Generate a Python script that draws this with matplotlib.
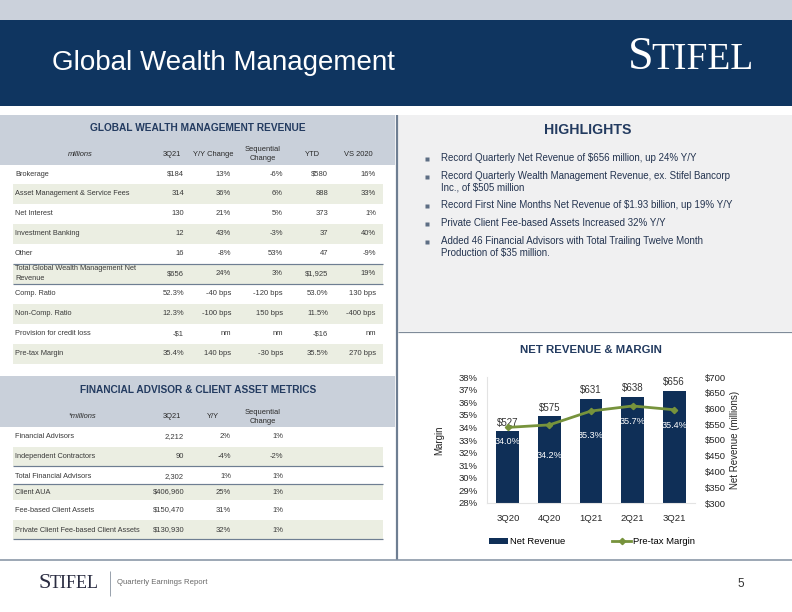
import matplotlib
matplotlib.use("Agg")
import matplotlib.pyplot as plt
from matplotlib.patches import Rectangle
from matplotlib import font_manager
from matplotlib.ticker import FixedLocator, FuncFormatter

# ------------------------------------------------------------------ data
categories = ["3Q20", "4Q20", "1Q21", "2Q21", "3Q21"]
net_revenue = [527, 575, 631, 638, 656]          # $ millions (right axis)
pretax_margin = [34.0, 34.2, 35.3, 35.7, 35.4]   # % (left axis)
margin_ticks = [28, 29, 30, 31, 32, 33, 34, 35, 36, 37, 38]
revenue_ticks = [300, 350, 400, 450, 500, 550, 600, 650, 700]

rev_header = ["millions", "3Q21", "Y/Y Change", "Sequential\nChange", "YTD", "VS 2020"]
rev_rows = ["Brokerage", "Asset Management & Service Fees", "Net Interest",
            "Investment Banking", "Other",
            "Total Global Wealth Management Net\nRevenue",
            "Comp. Ratio", "Non-Comp. Ratio", "Provision for credit loss",
            "Pre-tax Margin"]
rev_3q21 = ["$184", "314", "130", "12", "16", "$656", "52.3%", "12.3%", "-$1", "35.4%"]
rev_yy = ["13%", "36%", "21%", "43%", "-8%", "24%", "-40 bps", "-100 bps", "nm", "140 bps"]
rev_seq = ["-6%", "6%", "5%", "-3%", "53%", "3%", "-120 bps", "150 bps", "nm", "-30 bps"]
rev_ytd = ["$580", "888", "373", "37", "47", "$1,925", "53.0%", "11.5%", "-$16", "35.5%"]
rev_vs = ["16%", "33%", "1%", "40%", "-9%", "19%", "130 bps", "-400 bps", "nm", "270 bps"]

fa_header = ["*millions", "3Q21", "Y/Y", "Sequential\nChange"]
fa_rows = ["Financial Advisors", "Independent Contractors", "Total Financial Advisors",
           "Client AUA", "Fee-based Client Assets",
           "Private Client Fee-based Client Assets"]
fa_3q21 = ["2,212", "90", "2,302", "$406,960", "$150,470", "$130,930"]
fa_yy = ["2%", "-4%", "1%", "25%", "31%", "32%"]
fa_seq = ["1%", "-2%", "1%", "1%", "1%", "1%"]

highlights = [
    ["Record Quarterly Net Revenue of $656 million, up 24% Y/Y"],
    ["Record Quarterly Wealth Management Revenue, ex. Stifel Bancorp",
     "Inc., of $505 million"],
    ["Record First Nine Months Net Revenue of $1.93 billion, up 19% Y/Y"],
    ["Private Client Fee-based Assets Increased 32% Y/Y"],
    ["Added 46 Financial Advisors with Total Trailing Twelve Month",
     "Production of $35 million."],
]

# ------------------------------------------------------------------ style
NAVY = "#0f3560"
HEAD_NAVY = "#233b60"
BAR = "#0f2f57"
GREEN = "#77933c"
BAND = "#c9d0da"
STRIPE = "#ebeee2"
RULE = "#6e7e92"
TXT = "#3a3a3a"

SANS = "Liberation Sans"
SERIF = "Liberation Serif"
_names = {f.name for f in font_manager.fontManager.ttflist}
NARROW = "Liberation Sans Narrow" if "Liberation Sans Narrow" in _names else SANS
NARROW_SIZE = 8.6 if NARROW != SANS else 7.3

W, H = 792, 612
fig = plt.figure(figsize=(W / 100, H / 100), dpi=100)
fig.patch.set_facecolor("white")

bg = fig.add_axes([0, 0, 1, 1])
bg.set_xlim(0, W)
bg.set_ylim(H, 0)
bg.axis("off")
bg.set_zorder(-1)


def rect(x0, y0, x1, y1, color):
    bg.add_patch(Rectangle((x0, y0), x1 - x0, y1 - y0, facecolor=color,
                           edgecolor="none", lw=0))


def line(x0, y0, x1, y1, color, px):
    bg.plot([x0, x1], [y0, y1], color=color, lw=px * 0.72, solid_capstyle="butt")


def txt(x, y, s, size=5.3, ha="left", va="center", color=TXT, **kw):
    kw.setdefault("family", SANS)
    bg.text(x, y, s, fontsize=size, ha=ha, va=va, color=color, **kw)


# ---- slide header
rect(0, 0, W, 20, "#cbd1db")
rect(0, 20, W, 106, NAVY)
txt(52, 63, "Global Wealth Management", size=20, color="white")
txt(628, 58, "S", size=33, color="white", family=SERIF)
txt(651, 60, "TIFEL", size=27, color="white", family=SERIF)

# ---- panels
rect(398, 115, W, 331, "#f0f0f1")
line(398, 332, W, 332, "#7f8b99", 1.2)
line(396.5, 115, 396.5, 560, RULE, 2.2)
line(0, 560, W, 560, "#8794a5", 1.6)

# ---- table 1
rect(0, 115, 395, 165, BAND)
txt(198, 128, "GLOBAL WEALTH MANAGEMENT REVENUE", size=NARROW_SIZE, ha="center",
    color=HEAD_NAVY, family=NARROW, weight="bold")
hdr_x = [80, 172, 213, 263, 312, 358]
for i, (x, s) in enumerate(zip(hdr_x, rev_header)):
    txt(x, 154, s, size=5.4, ha="center", color="#2a2a2a",
        style="italic" if i == 0 else "normal", linespacing=1.55)

row_y1 = [174 + 19.95 * i for i in range(len(rev_rows))]
for i, y in enumerate(row_y1):
    if i % 2 == 1:
        rect(13, y - 10, 383, y + 10, STRIPE)
tot = rev_rows.index("Total Global Wealth Management Net\nRevenue")
line(13, row_y1[tot] - 10, 383, row_y1[tot] - 10, RULE, 1.2)
line(13, row_y1[tot] + 10, 383, row_y1[tot] + 10, RULE, 1.2)

val_x1 = [184, 231, 283, 328, 376]
cols1 = [rev_3q21, rev_yy, rev_seq, rev_ytd, rev_vs]
for i, y in enumerate(row_y1):
    txt(15, y, rev_rows[i], linespacing=1.5)
    for x, col in zip(val_x1, cols1):
        txt(x, y, col[i], ha="right", size=5.5)

# ---- table 2
rect(0, 376, 395, 427, BAND)
txt(198, 390, "FINANCIAL ADVISOR & CLIENT ASSET METRICS", size=NARROW_SIZE, ha="center",
    color=HEAD_NAVY, family=NARROW, weight="bold")
hdr2_x = [82, 172, 213, 263]
for x, s in zip(hdr2_x, fa_header):
    txt(x, 417, s, size=5.4, ha="center", color="#2a2a2a",
        style="italic" if s.startswith("*") else "normal", linespacing=1.55)

fa_row_y = [437, 457, 477, 492, 510, 530]
fa_stripes = [(447, 466), (485, 500), (520, 539)]
for y0, y1 in fa_stripes:
    rect(13, y0, 383, y1, STRIPE)
line(13, 466, 383, 466, RULE, 1.2)
line(13, 484, 383, 484, RULE, 1.2)
line(13, 539, 383, 539, RULE, 1.2)

val_x2 = [184, 231, 283]
cols2 = [fa_3q21, fa_yy, fa_seq]
for i, y in enumerate(fa_row_y):
    txt(15, y, fa_rows[i])
    for x, col in zip(val_x2, cols2):
        txt(x, y, col[i], ha="right", size=5.5)

# ---- highlights
txt(588, 130, "HIGHLIGHTS", size=10.2, ha="center", color=HEAD_NAVY, weight="bold")
y = 158.0
for item in highlights:
    bg.plot([427], [y + 0.5], marker="s", ms=2.2, color="#5d6e84", mec="none")
    for j, ln in enumerate(item):
        txt(441, y + j * 11.3, ln, size=7.0, color="#243450")
    y += 18 + (len(item) - 1) * 11.3

# ---- chart title
txt(591, 350, "NET REVENUE & MARGIN", size=8.2, ha="center", color=HEAD_NAVY,
    weight="bold")

# ---- footer
txt(38, 583, "S", size=16, color="#2b2d42", family=SERIF)
txt(50, 584, "TIFEL", size=13, color="#2b2d42", family=SERIF)
line(110, 571, 110, 596, "#9aa3ae", 1)
txt(117, 583, "Quarterly Earnings Report", size=5.6, color="#6a6a6a")
txt(741, 584, "5", size=8.5, ha="center", color="#333333")

# ------------------------------------------------------------------ chart
ax = fig.add_axes([487 / W, (H - 503) / H, (695 - 487) / W, 126 / H])
ax2 = ax.twinx()
ax.set_zorder(3)
ax2.set_zorder(2)
ax.patch.set_visible(False)

x = list(range(len(categories)))
bars = ax2.bar(x, net_revenue, width=0.55, color=BAR, zorder=2, label="Net Revenue")
ln, = ax.plot(x, pretax_margin, color=GREEN, lw=2.0, marker="D", ms=3.2,
              label="Pre-tax Margin")

ax.set_xlim(-0.5, len(categories) - 0.5)
ax.set_ylim(margin_ticks[0], margin_ticks[-1])
ax2.set_ylim(revenue_ticks[0], revenue_ticks[-1])
ax.yaxis.set_major_locator(FixedLocator(margin_ticks))
ax.yaxis.set_major_formatter(FuncFormatter(lambda v, p: f"{v:.0f}%"))
ax2.yaxis.set_major_locator(FixedLocator(revenue_ticks))
ax2.yaxis.set_major_formatter(FuncFormatter(lambda v, p: f"${v:.0f}"))
ax.set_xticks(x)
ax.set_xticklabels(categories)

for a in (ax, ax2):
    for sp in a.spines.values():
        sp.set_visible(False)
    a.tick_params(length=0, labelsize=6.8, colors="#262626")
    for t in a.get_yticklabels() + a.get_xticklabels():
        t.set_family(SANS)
ax.spines["left"].set_visible(True)
ax.spines["left"].set_color("#e3e3e3")
ax.spines["bottom"].set_visible(True)
ax.spines["bottom"].set_color("#e3e3e3")
ax.tick_params(axis="y", pad=7)
ax2.tick_params(axis="y", pad=7)
ax.tick_params(axis="x", pad=8)

ax.set_ylabel("Margin", fontsize=7, family=SANS, color="#262626", labelpad=10)
ax2.set_ylabel("Net Revenue (millions)", fontsize=7, family=SANS, color="#262626",
               rotation=90, labelpad=3)

for xi, v in zip(x, net_revenue):
    ax2.annotate(f"${v}", (xi, v), xytext=(0, 2.5), textcoords="offset points",
                 ha="center", va="bottom", fontsize=7, family=SANS, color="#333333")
label_drop_pt = [10, 22, 17.5, 11, 11]
for xi, v, d in zip(x, pretax_margin, label_drop_pt):
    ax.annotate(f"{v:.1f}%", (xi, v), xytext=(0, -d), textcoords="offset points",
                ha="center", va="center", fontsize=6.6, family=SANS, color="white",
                zorder=5)

ax.legend(handles=[bars, ln], labels=["Net Revenue", "Pre-tax Margin"],
          loc="center", bbox_to_anchor=(592 / W, 1 - 542 / H),
          bbox_transform=fig.transFigure, ncol=2, frameon=False,
          prop={"family": SANS, "size": 6.8}, handlelength=2.0,
          handletextpad=0.2, columnspacing=5.0, handleheight=0.5)

fig.savefig("out.png", dpi=100, facecolor="white")
